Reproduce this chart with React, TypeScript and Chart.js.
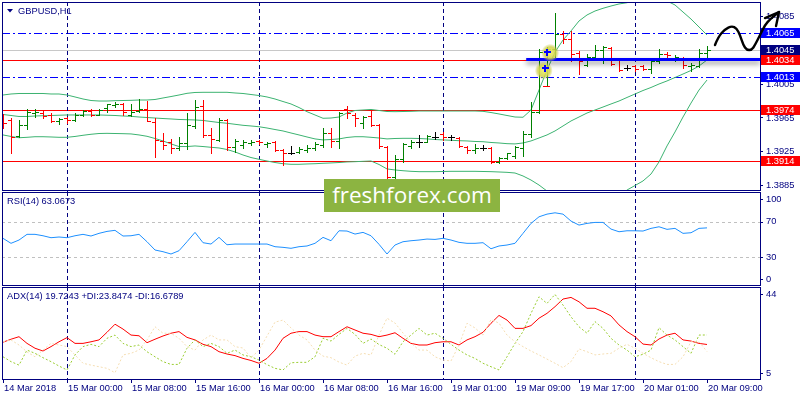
import React, { useEffect, useRef } from "react";
import { Chart, registerables } from "chart.js";

Chart.register(...registerables);

// ---------------- categories / time axis ----------------
const sessionDays = ["14 Mar", "15 Mar", "16 Mar", "19 Mar", "20 Mar"];
const sessionFirstHour = [16, 0, 0, 0, 0];
const sessionLastHour = [23, 23, 22, 23, 9];

const xTickIndex = [0, 8, 16, 24, 32, 40, 48, 56, 64, 72, 80, 88];
const xTickLabels = [
  "14 Mar 2018", "15 Mar 00:00", "15 Mar 08:00", "15 Mar 16:00", "16 Mar 00:00", "16 Mar 08:00",
  "16 Mar 16:00", "19 Mar 01:00", "19 Mar 09:00", "19 Mar 17:00", "20 Mar 01:00", "20 Mar 09:00",
];

// ---------------- GBPUSD H1 OHLC ----------------
const openPrices = [
  1.3967, 1.3962, 1.3944, 1.3957, 1.3971, 1.3971, 1.3968, 1.3961, 1.3965, 1.3963,
  1.3968, 1.3973, 1.3969, 1.3977, 1.3980, 1.3981, 1.3969, 1.3973, 1.3976, 1.3960,
  1.3938, 1.3936, 1.3930, 1.3935, 1.3955, 1.3979, 1.3945, 1.3939, 1.3963, 1.3931,
  1.3933, 1.3935, 1.3938, 1.3934, 1.3936, 1.3927, 1.3924, 1.3925, 1.3927, 1.3930,
  1.3933, 1.3947, 1.3938, 1.3976, 1.3969, 1.3959, 1.3967, 1.3957, 1.3931, 1.3895,
  1.3917, 1.3932, 1.3937, 1.3937, 1.3943, 1.3946, 1.3942, 1.3941, 1.3931, 1.3927,
  1.3930, 1.3930, 1.3913, 1.3918, 1.3920, 1.3930, 1.3946, 1.3972, 1.4043, 1.4046,
  1.4064, 1.4058, 1.4042, 1.4028, 1.4037, 1.4045, 1.4048, 1.4033, 1.4024, 1.4026,
  1.4026, 1.4023, 1.4032, 1.4041, 1.4036, 1.4036, 1.4026, 1.4026, 1.4042,
];
const highPrices = [
  1.3970, 1.3965, 1.3963, 1.3976, 1.3976, 1.3973, 1.3971, 1.3965, 1.3966, 1.3971,
  1.3974, 1.3976, 1.3976, 1.3982, 1.3984, 1.3983, 1.3982, 1.3987, 1.3985, 1.3965,
  1.3947, 1.3940, 1.3943, 1.3971, 1.3986, 1.3986, 1.3953, 1.3965, 1.3964, 1.3940,
  1.3939, 1.3939, 1.3939, 1.3937, 1.3938, 1.3928, 1.3932, 1.3931, 1.3933, 1.3936,
  1.3953, 1.3953, 1.3972, 1.3979, 1.3971, 1.3967, 1.3973, 1.3958, 1.3932, 1.3921,
  1.3935, 1.3939, 1.3945, 1.3945, 1.3948, 1.3948, 1.3945, 1.3942, 1.3932, 1.3934,
  1.3933, 1.3931, 1.3919, 1.3924, 1.3932, 1.3950, 1.3984, 1.4047, 1.4049, 1.4089,
  1.4068, 1.4068, 1.4044, 1.4041, 1.4051, 1.4050, 1.4049, 1.4034, 1.4028, 1.4027,
  1.4028, 1.4034, 1.4047, 1.4043, 1.4039, 1.4037, 1.4030, 1.4047, 1.4050,
];
const lowPrices = [
  1.3953, 1.3924, 1.3942, 1.3952, 1.3966, 1.3965, 1.3960, 1.3958, 1.3959, 1.3961,
  1.3967, 1.3967, 1.3968, 1.3972, 1.3978, 1.3968, 1.3967, 1.3972, 1.3961, 1.3919,
  1.3928, 1.3923, 1.3927, 1.3928, 1.3953, 1.3943, 1.3924, 1.3938, 1.3927, 1.3925,
  1.3930, 1.3933, 1.3934, 1.3931, 1.3926, 1.3909, 1.3922, 1.3923, 1.3925, 1.3927,
  1.3931, 1.3931, 1.3930, 1.3965, 1.3955, 1.3953, 1.3956, 1.3929, 1.3894, 1.3894,
  1.3913, 1.3929, 1.3931, 1.3936, 1.3940, 1.3939, 1.3939, 1.3931, 1.3924, 1.3924,
  1.3927, 1.3912, 1.3912, 1.3916, 1.3918, 1.3920, 1.3943, 1.3971, 1.4004, 1.4033,
  1.4053, 1.4032, 1.4017, 1.4026, 1.4036, 1.4030, 1.4028, 1.4021, 1.4022, 1.4021,
  1.4022, 1.4018, 1.4030, 1.4036, 1.4032, 1.4024, 1.4021, 1.4025, 1.4034,
];
const closePrices = [
  1.3959, 1.3943, 1.3957, 1.3972, 1.3972, 1.3967, 1.3961, 1.3964, 1.3963, 1.3969,
  1.3973, 1.3968, 1.3974, 1.3981, 1.3982, 1.3972, 1.3972, 1.3976, 1.3961, 1.3939,
  1.3933, 1.3929, 1.3935, 1.3957, 1.3978, 1.3945, 1.3940, 1.3963, 1.3931, 1.3938,
  1.3936, 1.3937, 1.3936, 1.3935, 1.3927, 1.3924, 1.3924, 1.3928, 1.3930, 1.3934,
  1.3947, 1.3938, 1.3971, 1.3971, 1.3965, 1.3966, 1.3957, 1.3932, 1.3895, 1.3917,
  1.3934, 1.3937, 1.3937, 1.3944, 1.3943, 1.3942, 1.3942, 1.3932, 1.3927, 1.3930,
  1.3930, 1.3913, 1.3918, 1.3923, 1.3931, 1.3946, 1.3972, 1.4043, 1.4046, 1.4064,
  1.4058, 1.4040, 1.4032, 1.4037, 1.4045, 1.4049, 1.4029, 1.4022, 1.4024, 1.4023,
  1.4023, 1.4032, 1.4041, 1.4039, 1.4037, 1.4028, 1.4028, 1.4042, 1.4045,
];

// ---------------- Bollinger Bands ----------------
const bbUpper = [
  1.39921, 1.39933, 1.39939, 1.39939, 1.39939, 1.39939, 1.39933, 1.39933, 1.39921, 1.39898,
  1.39874, 1.39856, 1.39850, 1.39850, 1.39854, 1.39856, 1.39858, 1.39862, 1.39862, 1.39868,
  1.39886, 1.39903, 1.39921, 1.39941, 1.39951, 1.39953, 1.39953, 1.39953, 1.39953, 1.39945,
  1.39939, 1.39927, 1.39915, 1.39898, 1.39874, 1.39844, 1.39815, 1.39773, 1.39724, 1.39685,
  1.39646, 1.39649, 1.39661, 1.39708, 1.39738, 1.39744, 1.39750, 1.39738, 1.39726, 1.39724,
  1.39726, 1.39728, 1.39732, 1.39732, 1.39732, 1.39732, 1.39732, 1.39732, 1.39732, 1.39732,
  1.39728, 1.39714, 1.39697, 1.39679, 1.39661, 1.39658, 1.39744, 1.39980, 1.40217, 1.40429,
  1.40571, 1.40678, 1.40796, 1.40867, 1.40914, 1.40946, 1.40973, 1.40997, 1.41012, 1.41038,
  1.41062, 1.41074, 1.41062, 1.41032, 1.40985, 1.40902, 1.40819, 1.40725, 1.40630,
];
const bbMiddle = [
  1.39691, 1.39679, 1.39667, 1.39667, 1.39673, 1.39676, 1.39679, 1.39682, 1.39685, 1.39685,
  1.39685, 1.39685, 1.39685, 1.39682, 1.39679, 1.39673, 1.39669, 1.39661, 1.39655, 1.39649,
  1.39643, 1.39638, 1.39632, 1.39629, 1.39626, 1.39620, 1.39608, 1.39596, 1.39587, 1.39575,
  1.39563, 1.39555, 1.39546, 1.39531, 1.39513, 1.39496, 1.39472, 1.39449, 1.39425, 1.39402,
  1.39390, 1.39395, 1.39402, 1.39419, 1.39428, 1.39428, 1.39421, 1.39413, 1.39402, 1.39407,
  1.39409, 1.39409, 1.39407, 1.39402, 1.39395, 1.39390, 1.39386, 1.39381, 1.39378, 1.39372,
  1.39369, 1.39360, 1.39354, 1.39346, 1.39343, 1.39354, 1.39378, 1.39413, 1.39449, 1.39496,
  1.39555, 1.39614, 1.39661, 1.39708, 1.39744, 1.39779, 1.39815, 1.39850, 1.39892, 1.39933,
  1.39974, 1.40010, 1.40051, 1.40087, 1.40128, 1.40169, 1.40211, 1.40264, 1.40335,
];
const bbLower = [
  1.39449, 1.39431, 1.39416, 1.39421, 1.39428, 1.39428, 1.39425, 1.39421, 1.39421, 1.39431,
  1.39445, 1.39457, 1.39466, 1.39468, 1.39466, 1.39464, 1.39461, 1.39449, 1.39433, 1.39407,
  1.39378, 1.39343, 1.39312, 1.39312, 1.39319, 1.39312, 1.39303, 1.39295, 1.39277, 1.39248,
  1.39212, 1.39182, 1.39161, 1.39141, 1.39123, 1.39109, 1.39102, 1.39102, 1.39106, 1.39109,
  1.39114, 1.39118, 1.39123, 1.39130, 1.39133, 1.39137, 1.39141, 1.39100, 1.39047, 1.39035,
  1.39026, 1.39019, 1.39015, 1.39015, 1.39015, 1.39017, 1.39019, 1.39019, 1.39019, 1.39019,
  1.39017, 1.39015, 1.39011, 1.39007, 1.38999, 1.38964, 1.38916, 1.38857, 1.38786, 1.38727,
  1.38680, 1.38645, 1.38621, 1.38609, 1.38609, 1.38621, 1.38656, 1.38716, 1.38798, 1.38851,
  1.38905, 1.38987, 1.39130, 1.39319, 1.39484, 1.39661, 1.39826, 1.39980, 1.40098,
];

// ---------------- RSI(14) ----------------
const rsiValues = [
  51.3, 45.7, 49.4, 55.8, 55.8, 54.2, 52.0, 52.8, 52.0, 54.2,
  55.8, 53.9, 56.9, 59.1, 60.3, 53.9, 54.2, 55.8, 47.5, 38.2,
  36.3, 33.7, 37.4, 47.5, 58.0, 46.4, 44.9, 52.4, 44.1, 44.9,
  44.9, 44.9, 44.9, 44.9, 41.9, 41.2, 40.1, 41.9, 42.7, 45.7,
  52.4, 48.6, 59.8, 59.5, 56.1, 58.0, 54.2, 44.6, 33.7, 43.8,
  47.5, 48.6, 49.4, 50.5, 50.1, 51.3, 49.4, 46.8, 45.7, 45.7,
  46.4, 39.6, 42.7, 43.8, 45.7, 56.9, 68.1, 75.5, 78.5, 80.0,
  78.5, 70.7, 66.2, 68.1, 69.2, 69.2, 61.7, 58.7, 59.8, 59.8,
  59.5, 62.5, 64.3, 61.4, 62.5, 56.9, 57.6, 62.5, 63.07,
];
const rsiLevels = [70, 30];
const rsiAxisLabels = [100, 70, 30, 0];

// ---------------- ADX(14) ----------------
const adxValues = [
  20.7, 22.0, 23.1, 20.2, 18.1, 16.9, 18.8, 20.9, 22.7, 20.2,
  20.2, 20.9, 21.7, 25.0, 28.5, 26.4, 23.8, 23.5, 20.5, 22.0,
  23.4, 24.6, 25.3, 22.8, 21.7, 19.8, 18.8, 16.6, 15.6, 14.9,
  13.7, 12.8, 11.6, 13.7, 17.3, 22.4, 24.6, 25.3, 25.3, 23.8,
  23.1, 23.1, 25.3, 27.4, 26.0, 24.6, 24.1, 23.1, 23.8, 24.8,
  22.4, 20.2, 19.5, 19.5, 20.5, 20.9, 20.9, 19.5, 21.7, 23.1,
  25.0, 28.9, 32.3, 30.3, 26.7, 26.7, 27.9, 31.1, 33.2, 36.1,
  39.4, 40.1, 38.2, 35.4, 35.4, 33.9, 32.1, 28.2, 25.3, 23.1,
  19.9, 19.5, 22.1, 23.8, 24.6, 21.7, 21.2, 20.2, 19.72,
];
const plusDiValues = [
  14.4, 12.3, 10.8, 17.3, 15.9, 14.0, 12.3, 10.4, 8.7, 15.2,
  18.8, 19.8, 18.8, 22.4, 23.8, 20.2, 18.8, 19.5, 16.6, 14.4,
  12.3, 11.1, 11.1, 18.1, 21.7, 18.8, 20.2, 18.8, 15.9, 17.3,
  15.2, 14.4, 13.0, 11.0, 9.4, 8.7, 11.8, 12.0, 12.0, 14.4,
  22.4, 21.2, 24.1, 26.7, 24.1, 20.2, 22.1, 19.7, 18.1, 15.5,
  20.9, 23.8, 26.7, 23.8, 24.6, 22.4, 19.8, 17.3, 15.2, 13.7,
  11.6, 10.1, 8.7, 14.4, 20.2, 25.3, 33.2, 40.4, 37.5, 41.4,
  36.8, 31.7, 27.4, 24.6, 29.6, 26.7, 22.4, 19.5, 17.3, 14.4,
  15.5, 17.3, 27.0, 23.8, 21.7, 18.8, 15.9, 23.8, 23.85,
];
const minusDiValues = [
  20.9, 21.7, 19.5, 16.5, 14.4, 17.3, 20.2, 19.5, 18.8, 15.2,
  11.6, 10.8, 10.1, 9.4, 7.5, 15.2, 15.9, 17.3, 21.7, 27.4,
  24.6, 24.6, 22.4, 18.8, 17.3, 21.7, 23.8, 21.7, 21.7, 18.8,
  18.2, 14.0, 17.3, 23.4, 29.4, 30.3, 26.9, 23.8, 21.7, 17.3,
  14.7, 14.0, 12.1, 10.8, 14.7, 15.9, 15.2, 23.8, 31.1, 29.0,
  24.7, 20.4, 17.3, 17.3, 14.4, 13.0, 12.6, 19.5, 28.9, 26.9,
  23.8, 30.5, 29.0, 23.8, 20.9, 18.8, 16.9, 15.2, 13.4, 11.6,
  9.7, 12.3, 17.8, 16.6, 15.2, 15.6, 15.9, 18.1, 19.8, 18.1,
  15.9, 14.0, 12.3, 11.1, 11.1, 14.4, 20.9, 20.9, 16.68,
];
const adxAxisLabels = [44, 5];

// ---------------- price-pane objects ----------------
const priceTicks = [1.3885, 1.3925, 1.3965, 1.4005, 1.4045, 1.4085];
const levelPrices = [1.4065, 1.4045, 1.4034, 1.4013, 1.3974, 1.3914];
const levelColors = ["#0000FF", "#C8C8C8", "#FF0000", "#0000FF", "#FF0000", "#FF0000"];
const levelDashes = [[8, 3, 2, 3], [], [], [8, 3, 2, 3], [], []];
const levelBoxColors = ["#0000FF", "#000080", "#FF0000", "#0000FF", "#FF0000", "#FF0000"];
const trendStartIndex = 65.4;
const trendPrice = 1.4034;
const highlightIndex = [68.4, 67.6];
const highlightPrice = [1.4042, 1.4021];
const entryIndex = [68.05, 67.7];
const entryPrice = [1.4043, 1.4024];
const stopIndex = [67.9];
const stopPrice = [1.4003];
const arrowPathIndex = [89.0, 89.41, 90.25, 91.09, 91.71, 92.13, 92.54, 92.96, 93.59, 94.0, 94.63, 95.25, 95.88, 97.0];
const arrowPathPrice = [1.40512, 1.4061, 1.40698, 1.40737, 1.40709, 1.4063, 1.40512, 1.40453, 1.40453, 1.40512, 1.4063, 1.40749, 1.40816, 1.40902];
const arrowHeadIndex = [95.25, 97.0, 96.63];
const arrowHeadPrice = [1.40831, 1.40902, 1.40737];

// ---------------- styling ----------------
const NAVY = "#000080";
const FONT_FAMILY = "'Liberation Sans', Arial, sans-serif";
const FONT_SIZE = 9.3;
const CANVAS_FONT = `${FONT_SIZE}px ${FONT_FAMILY}`;
const BULL = "#008000";
const BEAR = "#FF0000";
const DOJI = "#000000";
const BB_COLOR = "#3CB371";

const X_MIN = -0.125;
const X_MAX = 94.625;
const PRICE_MIN = 1.387864;
const PRICE_MAX = 1.410204;
const RSI_MIN = -2.25;
const RSI_MAX = 103.37;
const ADX_MIN = 4.35;
const ADX_MAX = 44.61;

const daySeparators: number[] = (() => {
  const out: number[] = [];
  let count = 0;
  sessionDays.forEach((_, k) => {
    if (k > 0) out.push(count);
    count += sessionLastHour[k] - sessionFirstHour[k] + 1;
  });
  return out;
})();

const pts = (arr: number[]) => arr.map((v, i) => ({ x: i, y: v }));

function drawSeparators(chart: any, y0: number, y1: number) {
  const { ctx } = chart;
  const x = chart.scales.x;
  ctx.save();
  ctx.strokeStyle = NAVY;
  ctx.lineWidth = 1;
  ctx.setLineDash([4, 3]);
  daySeparators.forEach((i) => {
    const px = Math.round(x.getPixelForValue(i)) + 0.5;
    ctx.beginPath();
    ctx.moveTo(px, y0);
    ctx.lineTo(px, y1);
    ctx.stroke();
  });
  ctx.restore();
}

function drawFrame(chart: any) {
  const { ctx, chartArea: a } = chart;
  ctx.save();
  ctx.strokeStyle = NAVY;
  ctx.lineWidth = 1;
  ctx.setLineDash([]);
  ctx.strokeRect(a.left + 0.5, a.top + 0.5, a.right - a.left, a.bottom - a.top - 1);
  ctx.restore();
}

function drawLegendText(chart: any, text: string, x: number, y: number) {
  const { ctx } = chart;
  ctx.save();
  ctx.font = CANVAS_FONT;
  ctx.fillStyle = NAVY;
  ctx.textBaseline = "middle";
  ctx.textAlign = "left";
  ctx.fillText(text, x, y);
  ctx.restore();
}

function drawSideLabels(chart: any, values: number[]) {
  const { ctx, chartArea: a } = chart;
  const y = chart.scales.y;
  ctx.save();
  ctx.font = CANVAS_FONT;
  ctx.fillStyle = NAVY;
  ctx.strokeStyle = NAVY;
  ctx.lineWidth = 1;
  ctx.textBaseline = "middle";
  ctx.textAlign = "left";
  values.forEach((v) => {
    let py = y.getPixelForValue(v);
    py = Math.min(Math.max(py, a.top + 7), a.bottom - 7);
    const ry = Math.round(py) + 0.5;
    ctx.beginPath();
    ctx.moveTo(a.right, ry);
    ctx.lineTo(a.right + 3, ry);
    ctx.stroke();
    ctx.fillText(String(v), a.right + 6, py);
  });
  ctx.restore();
}

const pricePlugin = {
  id: "pricePane",
  beforeDatasetsDraw(chart: any) {
    const { ctx, chartArea: a } = chart;
    const y = chart.scales.y;
    ctx.save();
    ctx.beginPath();
    ctx.rect(a.left, a.top, a.right - a.left, a.bottom - a.top);
    ctx.clip();
    levelPrices.forEach((p, k) => {
      const py = Math.round(y.getPixelForValue(p)) + 0.5;
      ctx.strokeStyle = levelColors[k];
      ctx.lineWidth = 1;
      ctx.setLineDash(levelDashes[k]);
      ctx.beginPath();
      ctx.moveTo(a.left, py);
      ctx.lineTo(a.right, py);
      ctx.stroke();
    });
    ctx.restore();
    drawSeparators(chart, a.top, chart.height);
  },
  afterDatasetsDraw(chart: any) {
    const { ctx, chartArea: a } = chart;
    const x = chart.scales.x;
    const y = chart.scales.y;
    ctx.save();
    ctx.beginPath();
    ctx.rect(a.left, a.top, a.right - a.left, a.bottom - a.top);
    ctx.clip();
    // OHLC bars
    for (let i = 0; i < openPrices.length; i++) {
      const o = openPrices[i], h = highPrices[i], l = lowPrices[i], c = closePrices[i];
      const px = Math.round(x.getPixelForValue(i));
      const yh = Math.round(y.getPixelForValue(h));
      const yl = Math.round(y.getPixelForValue(l));
      const yo = Math.round(y.getPixelForValue(o));
      const yc = Math.round(y.getPixelForValue(c));
      ctx.fillStyle = c > o ? BULL : c < o ? BEAR : DOJI;
      ctx.fillRect(px, yh, 1, yl - yh + 1);
      ctx.fillRect(px - 3, yo, 3, 1);
      ctx.fillRect(px + 1, yc, 3, 1);
    }
    // thick blue trend line with shadow
    ctx.save();
    ctx.shadowColor = "rgba(0,0,0,0.45)";
    ctx.shadowBlur = 5;
    ctx.shadowOffsetY = 3;
    ctx.strokeStyle = "#0000FF";
    ctx.lineWidth = 3;
    const ty = y.getPixelForValue(trendPrice);
    ctx.beginPath();
    ctx.moveTo(x.getPixelForValue(trendStartIndex), ty);
    ctx.lineTo(a.right, ty);
    ctx.stroke();
    ctx.restore();
    // highlight glows
    highlightIndex.forEach((hi, k) => {
      const cx = x.getPixelForValue(hi);
      const cy = y.getPixelForValue(highlightPrice[k]);
      const g = ctx.createRadialGradient(cx, cy, 1, cx, cy, 9);
      g.addColorStop(0, "rgba(235,235,110,0.95)");
      g.addColorStop(0.6, "rgba(210,210,70,0.85)");
      g.addColorStop(1, "rgba(190,190,60,0)");
      ctx.fillStyle = g;
      ctx.beginPath();
      ctx.arc(cx, cy, 9, 0, Math.PI * 2);
      ctx.fill();
    });
    // entry crosses
    ctx.fillStyle = "#0000FF";
    entryIndex.forEach((ei, k) => {
      const cx = Math.round(x.getPixelForValue(ei));
      const cy = Math.round(y.getPixelForValue(entryPrice[k]));
      ctx.fillRect(cx - 3, cy - 1, 7, 2);
      ctx.fillRect(cx - 1, cy - 3, 2, 7);
    });
    // stop marker
    ctx.fillStyle = "#FF0000";
    stopIndex.forEach((si, k) => {
      const cx = Math.round(x.getPixelForValue(si));
      const cy = Math.round(y.getPixelForValue(stopPrice[k]));
      ctx.fillRect(cx - 3, cy, 7, 1);
    });
    ctx.restore();
  },
  afterDraw(chart: any) {
    const { ctx, chartArea: a } = chart;
    const x = chart.scales.x;
    const y = chart.scales.y;
    drawFrame(chart);
    // boxed price labels
    ctx.save();
    ctx.font = CANVAS_FONT;
    ctx.textBaseline = "middle";
    ctx.textAlign = "left";
    levelPrices.forEach((p, k) => {
      const py = y.getPixelForValue(p);
      const top = Math.round(py) - 5;
      ctx.fillStyle = levelBoxColors[k];
      ctx.fillRect(a.right + 1, top, chart.width - a.right - 1, 10);
      ctx.fillStyle = "#FFFFFF";
      ctx.fillText(p.toFixed(4), a.right + 6, top + 5);
    });
    ctx.restore();
    // title
    ctx.save();
    ctx.fillStyle = NAVY;
    ctx.beginPath();
    ctx.moveTo(7, 9);
    ctx.lineTo(13, 9);
    ctx.lineTo(10, 12.5);
    ctx.closePath();
    ctx.fill();
    ctx.restore();
    drawLegendText(chart, "GBPUSD,H1", 18, 11);
    // hand-drawn forecast arrow
    ctx.save();
    ctx.strokeStyle = "#000000";
    ctx.lineWidth = 2.4;
    ctx.lineCap = "round";
    ctx.lineJoin = "round";
    const P = arrowPathIndex.map((ix, k) => [x.getPixelForValue(ix), y.getPixelForValue(arrowPathPrice[k])]);
    ctx.beginPath();
    ctx.moveTo(P[0][0], P[0][1]);
    for (let k = 1; k < P.length - 1; k++) {
      const mx = (P[k][0] + P[k + 1][0]) / 2;
      const my = (P[k][1] + P[k + 1][1]) / 2;
      ctx.quadraticCurveTo(P[k][0], P[k][1], mx, my);
    }
    ctx.lineTo(P[P.length - 1][0], P[P.length - 1][1]);
    ctx.stroke();
    const H = arrowHeadIndex.map((ix, k) => [x.getPixelForValue(ix), y.getPixelForValue(arrowHeadPrice[k])]);
    ctx.beginPath();
    ctx.moveTo(H[0][0], H[0][1]);
    ctx.lineTo(H[1][0], H[1][1]);
    ctx.lineTo(H[2][0], H[2][1]);
    ctx.stroke();
    ctx.restore();
  },
};

const rsiPlugin = {
  id: "rsiPane",
  beforeDatasetsDraw(chart: any) {
    const { ctx, chartArea: a } = chart;
    const y = chart.scales.y;
    ctx.save();
    ctx.strokeStyle = "#C0C0C0";
    ctx.lineWidth = 1;
    ctx.setLineDash([3, 3]);
    rsiLevels.forEach((v) => {
      const py = Math.round(y.getPixelForValue(v)) + 0.5;
      ctx.beginPath();
      ctx.moveTo(a.left, py);
      ctx.lineTo(a.right, py);
      ctx.stroke();
    });
    ctx.restore();
    drawSeparators(chart, 0, chart.height);
  },
  afterDraw(chart: any) {
    drawFrame(chart);
    drawSideLabels(chart, rsiAxisLabels);
    drawLegendText(chart, "RSI(14) 63.0673", 7, 9.7);
  },
};

const adxPlugin = {
  id: "adxPane",
  beforeDatasetsDraw(chart: any) {
    drawSeparators(chart, 0, chart.chartArea.bottom);
  },
  afterDraw(chart: any) {
    drawFrame(chart);
    drawSideLabels(chart, adxAxisLabels);
    drawLegendText(chart, "ADX(14) 19.7243 +DI:23.8474 -DI:16.6789", 7, 9.7);
  },
};

const hiddenX = { type: "linear", min: X_MIN, max: X_MAX, display: false };

function quietRightAxis(min: number, max: number) {
  return {
    type: "linear",
    position: "right",
    min,
    max,
    bounds: "data",
    afterFit: (s: any) => {
      s.width = 40;
      s.paddingTop = 0;
      s.paddingBottom = 0;
    },
    grid: { display: false },
    border: { display: false },
    ticks: { display: false },
  };
}

const baseOptions = {
  animation: false,
  responsive: false,
  maintainAspectRatio: false,
  events: [],
  plugins: { legend: { display: false }, tooltip: { enabled: false } },
  elements: { point: { radius: 0 }, line: { tension: 0, borderWidth: 1 } },
};

function lineDs(values: number[], color: string, dash: number[] = []) {
  return {
    data: pts(values),
    borderColor: color,
    borderWidth: 1,
    borderDash: dash,
    pointRadius: 0,
    fill: false,
    tension: 0,
  };
}

export default function App() {
  const priceRef = useRef<HTMLCanvasElement>(null);
  const rsiRef = useRef<HTMLCanvasElement>(null);
  const adxRef = useRef<HTMLCanvasElement>(null);

  useEffect(() => {
    const charts: any[] = [];
    charts.push(
      new Chart(priceRef.current as any, {
        type: "line",
        data: {
          datasets: [lineDs(bbUpper, BB_COLOR), lineDs(bbMiddle, BB_COLOR), lineDs(bbLower, BB_COLOR)],
        },
        options: {
          ...baseOptions,
          layout: { padding: { left: 2, top: 2, right: 0, bottom: 1 } },
          scales: {
            x: hiddenX,
            y: {
              type: "linear",
              position: "right",
              min: PRICE_MIN,
              max: PRICE_MAX,
              bounds: "data",
              afterBuildTicks: (s: any) => {
                s.ticks = priceTicks.map((v) => ({ value: v }));
              },
              afterFit: (s: any) => {
                s.width = 40;
                s.paddingTop = 0;
                s.paddingBottom = 0;
              },
              grid: { display: true, drawOnChartArea: false, drawTicks: true, tickLength: 3, color: NAVY, lineWidth: 1 },
              border: { display: false },
              ticks: {
                autoSkip: false,
                color: NAVY,
                padding: 3,
                font: { family: FONT_FAMILY, size: FONT_SIZE },
                callback: (v: any) => Number(v).toFixed(4),
              },
            },
          },
        } as any,
        plugins: [pricePlugin],
      } as any)
    );
    charts.push(
      new Chart(rsiRef.current as any, {
        type: "line",
        data: { datasets: [lineDs(rsiValues, "#1E90FF")] },
        options: {
          ...baseOptions,
          layout: { padding: { left: 2, top: 0, right: 0, bottom: 1 } },
          scales: { x: hiddenX, y: quietRightAxis(RSI_MIN, RSI_MAX) },
        } as any,
        plugins: [rsiPlugin],
      } as any)
    );
    charts.push(
      new Chart(adxRef.current as any, {
        type: "line",
        data: {
          datasets: [
            lineDs(minusDiValues, "#F5DEB3", [2, 2]),
            lineDs(plusDiValues, "#9ACD32", [2, 2]),
            lineDs(adxValues, "#FF0000"),
          ],
        },
        options: {
          ...baseOptions,
          layout: { padding: { left: 2, top: 0, right: 0, bottom: 0 } },
          scales: {
            x: {
              type: "linear",
              position: "bottom",
              min: X_MIN,
              max: X_MAX,
              bounds: "data",
              afterBuildTicks: (s: any) => {
                s.ticks = xTickIndex.map((v) => ({ value: v }));
              },
              afterFit: (s: any) => {
                s.height = 20;
                s.paddingLeft = 0;
                s.paddingRight = 0;
              },
              grid: { display: true, drawOnChartArea: false, drawTicks: true, tickLength: 3, color: NAVY, lineWidth: 1 },
              border: { display: false },
              ticks: {
                autoSkip: false,
                maxRotation: 0,
                minRotation: 0,
                align: "start",
                padding: 0,
                labelOffset: 1,
                color: NAVY,
                font: { family: FONT_FAMILY, size: FONT_SIZE },
                callback: (v: any) => {
                  const k = xTickIndex.indexOf(Math.round(Number(v)));
                  return k >= 0 ? xTickLabels[k] : "";
                },
              },
            },
            y: quietRightAxis(ADX_MIN, ADX_MAX),
          },
        } as any,
        plugins: [adxPlugin],
      } as any)
    );
    return () => charts.forEach((c) => c.destroy());
  }, []);

  const canvasStyle = (top: number, height: number): React.CSSProperties => ({
    position: "absolute",
    left: 0,
    top,
    width: 800,
    height,
    display: "block",
  });

  return (
    <div
      style={{
        position: "fixed",
        left: 0,
        top: 0,
        width: 800,
        height: 400,
        background: "#FFFFFF",
        overflow: "hidden",
      }}
    >
      <canvas ref={priceRef} width={800} height={192} style={canvasStyle(0, 192)} />
      <canvas ref={rsiRef} width={800} height={95} style={canvasStyle(192, 95)} />
      <canvas ref={adxRef} width={800} height={113} style={canvasStyle(287, 113)} />
      <div
        style={{
          position: "absolute",
          left: 324,
          top: 179,
          width: 176,
          height: 33,
          background: "#8CB441",
          color: "#FFFFFF",
          fontFamily: "'Open Sans', sans-serif",
          fontSize: 22.5,
          lineHeight: "31px",
          textAlign: "center",
          whiteSpace: "nowrap",
        }}
      >
        freshforex.com
      </div>
    </div>
  );
}
